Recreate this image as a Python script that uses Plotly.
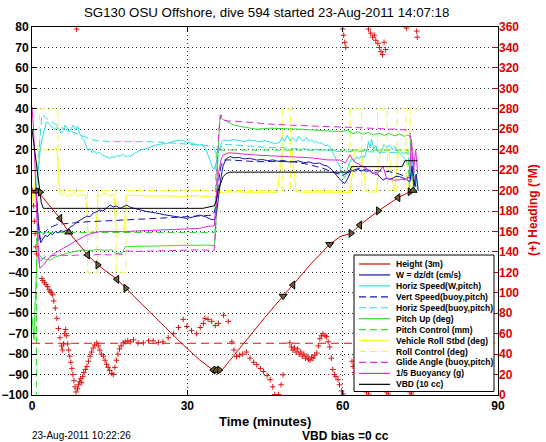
import plotly.graph_objects as go

# ---------------- data ----------------
height_t = [0, 1.2, 5.4, 7.1, 10.75, 12.7, 16.4, 18.1, 22, 25, 29, 32.4, 34.2, 35.0, 36.7, 39, 42, 45, 48.5, 50.4, 54, 57.5, 59.5, 61.6, 63.3, 66.9, 70.7, 73.0, 74.0]
height_v = [0, -0.6, -13.6, -20.4, -31.5, -36.4, -43.4, -47.8, -57.5, -65, -75, -82.9, -86.5, -87.8, -87.8, -80.5, -71.5, -62, -51.6, -46.2, -35.5, -26.3, -22.5, -20.9, -16.9, -9.9, -3.5, -0.6, 0]

hm_t = [0.9, 1.6, 5.4, 7.1, 10.75, 12.7, 16.4, 18.1, 35.0, 35.6, 36.2, 48.5, 50.4, 57.5, 61.6, 63.3, 66.9, 70.7, 73.0, 73.6]
hm_v = [-0.3, -0.8, -13.6, -20.4, -31.5, -36.4, -43.4, -47.8, -87.8, -88.0, -87.8, -51.6, -46.2, -26.3, -20.9, -16.9, -9.9, -3.5, -0.6, 0.0]
hm_sym = ["triangle-up", "triangle-right", "triangle-left", "triangle-up", "triangle-left", "triangle-right",
          "triangle-left", "triangle-right", "triangle-left", "triangle-up", "triangle-right", "triangle-down",
          "triangle-left", "triangle-down", "triangle-right", "triangle-left", "triangle-right", "triangle-left",
          "triangle-right", "triangle-up"]

w_t = [0.8, 1.1, 1.4, 1.7, 2.0, 2.5, 3.0, 3.5, 4.0, 4.5, 5.0, 5.5, 6.0, 6.7, 7.3, 8.0, 8.6, 9.3, 10.0, 10.6, 11.2, 11.8, 12.4, 13.1, 13.7, 14.4, 15.1, 15.7, 16.3, 17.0, 17.6, 18.3, 19, 20, 21, 22, 22.8, 24, 25.5, 27, 28.5, 29.9, 31, 32.4, 33.5, 34.5, 35.2, 35.6, 36.0, 36.4, 36.9, 37.5, 38.2, 39, 40, 41, 42, 43.4, 44.5, 45.5, 46.5, 47.5, 48.5, 49.5, 50.4, 51.5, 52.5, 53.5, 54.5, 55.5, 56.2, 57, 57.8, 58.4, 58.8, 59.3, 59.8, 60.4, 60.9, 61.3, 61.7, 62.3, 62.9, 63.5, 64, 64.6, 65.2, 65.9, 66.5, 67.2, 67.8, 68.4, 69.0, 69.7, 70.3, 71, 71.7, 72.3, 73, 73.4, 73.8, 74.2, 74.6]
w_v = [0, -12, -22, -25.5, -24, -22, -22.5, -21, -21.5, -20, -20.8, -19.5, -20, -19.5, -18, -17, -15.5, -14.4, -13.5, -12.5, -12.8, -11, -10.5, -9.5, -10, -8.5, -7.1, -8, -7.5, -8.7, -8, -7.1, -8.2, -9, -9.5, -10.2, -10.4, -11, -11.8, -12.4, -13, -13.6, -13, -12, -12.8, -14, -14.4, -12, -4, 5, 12, 15.5, 16.6, 16, 16.2, 15.5, 15.8, 14.9, 15.2, 14.6, 15, 14.3, 14.8, 14, 14.1, 14.5, 13.6, 14, 13.2, 13.5, 12.5, 12, 10.5, 8.5, 7.6, 6, 4.5, 3.5, 5.5, 8, 10, 9.2, 10.5, 9.5, 10, 9.3, 9.8, 8.4, 8.8, 6.5, 5.1, 6, 5.5, 6, 7, 6.8, 6.2, 5.5, 4.3, 12, 2, 8, 0]

hsw_t = [0.8, 1.2, 1.6, 2.0, 2.4, 2.8, 3.2, 3.6, 4.0, 4.4, 4.8, 5.2, 5.6, 6.0, 6.4, 6.8, 7.2, 7.6, 8.0, 8.4, 8.8, 9.2, 9.6, 10.0, 10.4, 10.8, 11.2, 11.6, 12.0, 12.5, 13.0, 13.5, 14.0, 14.5, 15.0, 15.5, 16.0, 16.5, 17.0, 17.5, 18.0, 18.5, 19.0, 20, 21, 22, 23, 24, 25, 26, 27, 28, 29, 30, 31, 32, 33, 33.6, 34.2, 34.8, 35.2, 35.6, 36.0, 36.3, 36.6, 37.0, 38, 39, 40, 41, 42, 43, 44, 45, 46, 47, 47.8, 48.3, 48.8, 49.3, 49.8, 50.4, 51, 51.5, 52, 52.5, 53, 53.5, 54, 54.5, 55, 55.5, 56, 56.5, 57, 57.5, 58, 58.5, 59, 59.5, 60, 60.4, 60.8, 61.2, 61.7, 62.2, 62.7, 63.2, 63.7, 64.2, 64.7, 65.0, 65.3, 65.6, 66.0, 66.4, 66.8, 67.2, 67.6, 68.0, 68.5, 69.1, 69.6, 70.1, 70.6, 71.0, 71.5, 72.0, 72.5, 73.0, 73.3, 73.6, 73.9, 74.2, 74.5]
hsw_v = [0, 12, 20, 26, 30, 33.5, 33, 32, 31, 29.5, 31, 30, 28, 29.5, 32, 30, 28.5, 30.5, 32, 29.5, 31.5, 28, 26, 25, 22, 19.5, 20.5, 18.5, 19.5, 18, 18.8, 17.5, 17, 16.2, 15.8, 16.5, 16.2, 17.2, 16.8, 18, 16.5, 17, 16.8, 18.5, 19.8, 20.5, 21.5, 22.3, 22.8, 23, 23.8, 24.5, 24.7, 23.5, 23.1, 22.3, 22.5, 20, 16, 11.5, 10.5, 14, 19, 21.5, 23.5, 24.7, 24.2, 25, 24.5, 24, 24.8, 24.3, 23.8, 24.5, 23.5, 23, 23.5, 26, 24, 27, 24.5, 25.8, 24, 26.5, 25, 24.2, 26, 24, 25, 23.5, 24.2, 22.8, 23.5, 22, 22.3, 21.5, 19, 16.5, 13.5, 11.5, 8, 6, 9, 13, 15.5, 14.5, 16.5, 15.5, 17, 16.2, 20, 24, 21, 25, 20.5, 22, 19, 18.2, 20, 22.5, 21, 22.3, 20, 21.5, 18.5, 18.2, 17, 15.5, 13, 11.7, 5, 16, 2, 8, 0]

vsb_t = [0.8, 1.2, 1.6, 2.0, 3, 4, 5, 7, 9, 11, 13, 15, 18.3, 21, 24, 27, 30, 32.4, 34, 35, 35.5, 36, 36.5, 37, 38, 40, 43.4, 46, 48, 50.4, 53, 56.2, 58, 60.1, 61.5, 63.3, 65, 67, 69.1, 71, 73, 73.5, 74.2]
vsb_v = [0, -15, -24, -22, -19, -17.5, -16.5, -16, -15.5, -15.2, -15, -14.8, -14.4, -14, -13.6, -13.2, -12.8, -12.2, -12, -12, -8, 4, 12, 14.9, 15, 14.6, 14.1, 14.2, 14, 14.1, 13, 10.9, 9, 7.6, 9.5, 10.9, 10, 9.5, 9.2, 8, 6, 10, 1]

hsb_t = [0.8, 1.2, 1.6, 1.9, 2.5, 3.5, 4.5, 5.4, 6.5, 7.5, 8.5, 9.3, 10.5, 11.8, 13, 15, 18.3, 20, 22.8, 25, 28.6, 30.5, 32.4, 34, 35, 35.6, 36.2, 36.9, 38, 40, 43.4, 46, 48, 50, 52, 54, 56, 58, 59.5, 61, 63, 65, 67, 69, 71, 72.5, 73.3, 74]
hsb_v = [0, 15, 30, 37, 36, 34, 32.5, 31, 30, 29, 28, 27.2, 26, 24.7, 24.3, 24, 23.9, 24, 23.9, 23.6, 23, 22.8, 22.3, 22, 21.5, 18, 20, 22.5, 22.5, 22, 21.5, 21, 21, 20.5, 20.5, 20, 20, 19.5, 19, 19, 19.3, 19, 18.8, 18.5, 18.5, 18.3, 10, 3]

pitch_t = [0, 0.2, 0.4, 0.6, 0.8, 1.0, 1.3, 1.8, 2.5, 3.5, 4.5, 5.5, 6.7, 8, 9.9, 11, 12.5, 14, 15.4, 16.0, 16.5, 17.5, 18.0, 20, 23, 26, 29, 32.4, 34, 35.2, 35.5, 35.8, 36.1, 36.3, 36.7, 37.6, 39, 41, 43.4, 46, 49.8, 52, 55, 57, 59.5, 61, 62, 63, 64, 65, 66, 67, 68, 69, 70, 71, 72, 72.5, 73, 73.4, 73.8, 74.2]
pitch_v = [-62, -70, -73, -55, -40, -32, -31, -33, -33.5, -34, -32.5, -31.5, -30.7, -30, -29, -29.5, -28.8, -29.2, -29, -30.5, -30.7, -30.5, -27.5, -27.3, -27, -27, -26.8, -26.6, -26.7, -27, -20, 10, 30, 37, 35, 33.7, 32, 31, 30, 30.5, 30.4, 30, 29.5, 29.2, 28.8, 29.5, 27.8, 28.8, 27.5, 28.5, 27.2, 28.2, 27, 28, 26.8, 27.6, 26.5, 27.2, 26.5, 10, 0, 5]

pctl_t = [0, 0.85, 0.9, 35.3, 35.6, 72.6, 72.9]
pctl_v = [-105, -105, -20.5, -20.5, 19.8, 19.8, 0]

roll_t = [0, 0.3, 0.6, 0.9, 1.2, 1.5, 2, 3, 4, 4.8, 5.1, 5.4, 5.8, 6.3, 6.8, 7.3, 7.8, 8.3, 8.8, 9.3, 9.8, 10.3, 10.6, 10.8, 11.2, 12.3, 12.6, 12.8, 13.3, 14, 15, 15.8, 16.0, 16.2, 17.8, 18.0, 18.2, 19, 21, 23, 25, 27, 29, 31, 33, 34.5, 35.3, 36, 37, 40, 43, 46, 47.4, 47.8, 48.3, 50.2, 50.6, 51, 53, 55, 57, 59, 61.5, 61.9, 62.3, 63.6, 64, 64.5, 66.5, 66.9, 67.3, 68.9, 69.3, 70, 70.4, 70.8, 72.8, 73.2, 73.6, 74]
roll_v = [0, -8, 5, 15, 20, 20, 20.5, 19.5, 20, 20.5, 10, -1.5, -2.5, -1, -3, -1.5, -2.2, -1, -2.8, -1.7, -2.5, -2, -10, -20, -20.5, -20, -10, -2.5, -2, -1.2, -2.5, -2, -10, -20, -20, -10, -2.5, -2.2, -2.5, -2.8, -2.6, -2.8, -3, -2.5, -2.8, -3, -2, -1, -0.8, -0.6, -1.2, -0.8, -1, 10, 20, 20, 10, -0.5, -1, -0.6, -1.2, -0.8, -1, 10, 20, 20, 10, -0.6, -0.8, 10, 20, 20, 10, -0.8, 10, 20, 20, 10, 2, 0]

rctl_t = [0, 1.4, 1.45, 5.0, 5.05, 10.7, 10.75, 12.6, 12.65, 16.2, 16.25, 18.1, 18.15, 48.3, 48.35, 49.9, 49.95, 61.4, 61.45, 63.6, 63.65, 66.7, 66.75, 68.6, 68.65, 70.5, 70.55, 72.2, 72.25, 73.0, 73.05, 74.3]
rctl_v = [0, 0, 40, 40, 0, 0, -40, -40, 0, 0, -40, -40, 0, 0, 40, 40, 0, 0, 40, 40, 0, 0, 40, 40, 0, 0, 40, 40, 0, 0, 40, 40]

glide_t = [0.8, 1.1, 1.4, 1.8, 2.5, 3.5, 5, 7, 9, 11, 13, 15, 16.4, 17.5, 18.2, 20, 24, 28, 32.4, 34.5, 35.2, 35.5, 35.8, 36.1, 36.5, 37, 38, 40, 43, 46, 50, 54, 58, 61, 64, 67, 70, 72.5, 73, 73.5, 74]
glide_v = [0, -20, -36, -34, -32.5, -32, -31.5, -31.8, -31.5, -31.8, -31.2, -31.5, -31, -31.2, -29.5, -29.8, -29.5, -29.3, -29, -29.2, -29.2, -15, 15, 30, 37, 34.5, 34, 33.8, 33, 32.5, 32, 31.5, 31.2, 31, 30.5, 30.3, 30, 29.6, 28, 15, 5]

buoy_t = [0, 0.3, 0.6, 0.9, 1.2, 1.5, 2, 2.8, 3.5, 4.5, 5.5, 6.7, 8, 9.9, 11.5, 13.1, 15, 18, 20, 23, 26, 29, 32.4, 34, 35.2, 35.6, 36, 36.5, 36.9, 38, 40, 43, 46, 50, 54, 57, 59.5, 60.5, 61.4, 62.3, 63.3, 64.5, 65.5, 66.5, 67.8, 68.5, 70, 71.5, 72.3, 72.9, 73.3, 73.7, 74.1, 74.5]
buoy_v = [41, 30, 10, -15, -30, -38, -37, -34.5, -32.4, -30.5, -29, -27.5, -25.5, -22.6, -21, -20.1, -20, -20.1, -19.8, -19.5, -19.2, -18.8, -18.5, -17.5, -17.3, -5, 8, 15, 17.4, 18.5, 18, 17.4, 17, 16.6, 16, 15, 14.9, 13.5, 17.4, 14, 12.5, 11, 9, 7.6, 11.7, 6, 5, 5.5, 5.2, 7, 25, 10, 20, 8]

vbd_t = [0, 0.5, 1.0, 1.4, 1.8, 2.2, 33.0, 35.2, 35.6, 36.0, 36.5, 36.9, 37.5, 38.2, 61.3, 61.7, 71.5, 72.0, 74.5]
vbd_v = [30, 20, 10, 2, -6, -8.7, -8.7, -7.5, -5, 0.3, 4, 6.8, 8.3, 9.0, 9.0, 11.7, 11.7, 14.6, 14.6]

hd_t = [0.15, 0.3, 0.45, 0.6, 0.75, 0.9, 1.9, 2.1, 2.4, 2.7, 3.0, 3.3, 3.5, 3.8, 4.0, 4.2, 4.5, 4.8, 5.1, 5.4, 5.7, 5.9, 6.1, 6.3, 6.5, 6.7, 6.9, 7.1, 7.3, 7.5, 7.7, 7.9, 8.1, 8.3, 8.5, 8.6, 8.8, 9.0, 9.2, 9.4, 9.6, 9.8, 10.0, 10.3, 10.6, 10.9, 11.2, 11.5, 11.8, 12.1, 12.5, 12.8, 13.1, 13.4, 13.8, 14.1, 14.4, 14.7, 15.0, 15.4, 15.7, 16.0, 16.3, 16.6, 16.9, 17.2, 17.6, 18.0, 18.5, 19.0, 19.6, 20.5, 21.5, 22.5, 23.4, 24.4, 25.3, 26.3, 27.3, 28.3, 29.2, 29.9, 30.8, 31.8, 32.5, 33.1, 33.4, 34.0, 34.7, 35.4, 36.0, 37.0, 37.9, 38.6, 39.0, 39.5, 40.1, 40.7, 41.4, 42.1, 42.8, 43.4, 44.1, 44.7, 45.4, 46.0, 46.5, 46.9, 47.6, 48.1, 48.5, 49.8, 50.1, 50.4, 50.7, 51.0, 51.3, 51.6, 51.9, 52.2, 52.5, 52.8, 53.1, 53.4, 53.7, 54.0, 54.3, 54.6, 55.0, 55.3, 55.6, 55.9, 56.2, 56.6, 56.9, 57.2, 57.5, 57.8, 58.1, 58.4, 58.7, 59.1, 59.4, 59.8, 60.1, 60.0, 60.2, 60.4, 60.6, 61.8, 62.0, 62.3, 62.7, 64.6, 65.0, 65.0, 65.4, 65.8, 66.1, 66.4, 66.8, 67.1, 67.4, 67.7, 68.0, 68.3, 68.5, 68.8, 72.3, 73.0, 73.3, 73.7, 74.3, 74.4]
hd_h = [200, 185, 170, 158, 145, 138, 114, 112, 110, 108, 106, 103, 101, 100, 98, 92, 85, 75, 65, 56, 48, 44, 50, 60, 64, 58, 50, 44, 38, 32, 26, 20, 14, 8, 3, 358, 6, 10, 13, 16, 12, 18, 22, 25, 28, 33, 38, 42, 46, 49, 51, 48, 44, 40, 38, 34, 30, 27, 24, 21, 20, 27, 34, 40, 45, 48, 51, 52, 53, 52, 54, 51, 51, 53, 53, 51.5, 52, 56, 60, 66, 74, 67, 63, 60, 66, 70, 75, 74, 72, 68, 70, 78, 72, 52, 44, 37.6, 39, 40, 42, 36, 32, 29.6, 26, 23, 19, 15, 8, 0.5, 0.5, 10, 19.7, 51, 47, 44, 46, 42, 45, 40, 42, 38, 40, 36, 38, 35, 34, 37, 36, 39, 41, 48, 55, 58, 60, 58, 57, 52, 47, 36, 25, 20, 18, 15, 10, 4, 1, 358, 352, 345, 340, 33, 28, 22, 17, 3, 1, 358, 354, 350, 352, 347, 344, 340, 336, 333, 345, 338, 3, 1, 359, 3, 1, 5, 356, 350]

target_t = [0, 90]
target_h = [50.6, 50.6]

legend_labels = ["Height (3m)", "W = dz/dt (cm/s)", "Horiz Speed(W,pitch)", "Vert Speed(buoy,pitch)",
                 "Horiz Speed(buoy,pitch)", "Pitch Up (deg)", "Pitch Control (mm)", "Vehicle Roll Stbd (deg)",
                 "Roll Control (deg)", "Glide Angle (buoy,pitch)", "1/5 Buoyancy (g)", "VBD (10 cc)"]

# ---------------- styles ----------------
RED = "rgb(205,0,0)"
HRED = "rgb(225,20,20)"
BLUE = "rgb(20,20,170)"
CYAN = "rgb(40,225,225)"
GREEN = "rgb(50,220,50)"
YELLOW = "rgb(250,250,40)"
MAG = "rgb(225,40,225)"
BLACK = "black"
DASH = "7px,4px"
FONT = "Liberation Sans, Arial, Helvetica, sans-serif"

styles = [(RED, "solid"), (BLUE, "solid"), (CYAN, "solid"), (BLUE, DASH), (CYAN, DASH),
          (GREEN, "solid"), (GREEN, DASH), (YELLOW, "solid"), (YELLOW, DASH), (MAG, DASH),
          (MAG, "solid"), (BLACK, "solid")]

series = [(height_t, height_v), (w_t, w_v), (hsw_t, hsw_v), (vsb_t, vsb_v), (hsb_t, hsb_v),
          (pitch_t, pitch_v), (pctl_t, pctl_v), (roll_t, roll_v), (rctl_t, rctl_v),
          (glide_t, glide_v), (buoy_t, buoy_v), (vbd_t, vbd_v)]

fig = go.Figure()

# heading markers and target heading on the right axis
fig.add_trace(go.Scatter(x=hd_t, y=hd_h, yaxis="y2", mode="markers",
                         marker=dict(symbol="cross-thin", size=4, line=dict(width=1, color=HRED)),
                         showlegend=False))
fig.add_trace(go.Scatter(x=target_t, y=target_h, yaxis="y2", mode="lines",
                         line=dict(color=HRED, width=1, dash="8px,5px"), showlegend=False))

draw_order = [8, 7, 6, 5, 4, 2, 3, 1, 9, 10, 11, 0]
for i in draw_order:
    t, v = series[i]
    col, dash = styles[i]
    fig.add_trace(go.Scatter(x=t, y=v, mode="lines", name=legend_labels[i],
                             line=dict(color=col, width=1, dash=dash), showlegend=False))

fig.add_trace(go.Scatter(x=hm_t, y=hm_v, mode="markers",
                         marker=dict(symbol=hm_sym, size=7, color="rgb(110,95,55)",
                                     line=dict(width=1, color="black")),
                         showlegend=False))

# ---------------- layout ----------------
W, H = 546, 442
L, R, T, B = 32, 48, 27, 47
pw, ph = W - L - R, H - T - B


def px(x):  # picture x pixel -> paper coordinate
    return (x - L) / pw


def py(y):  # picture y pixel -> paper coordinate
    return (H - B - y) / ph


tickfont = dict(family=FONT, size=12, color="black", weight="bold")
fig.update_layout(
    width=W, height=H, autosize=False,
    margin=dict(l=L, r=R, t=T, b=B, pad=0, autoexpand=False),
    paper_bgcolor="white", plot_bgcolor="white",
    showlegend=False,
    xaxis=dict(range=[0, 90], tickvals=[0, 30, 60, 90], ticks="inside", ticklen=5, tickcolor="black",
               showline=True, linecolor="black", linewidth=1, mirror="ticks", automargin=False,
               showgrid=True, gridcolor="rgb(60,60,60)", griddash="1px,3px", gridwidth=1,
               zeroline=False, tickfont=tickfont),
    yaxis=dict(range=[-100, 80], dtick=10, ticks="inside", ticklen=5, tickcolor="black",
               showline=True, linecolor="black", linewidth=1, mirror="ticks", automargin=False,
               showgrid=True, gridcolor="rgb(60,60,60)", griddash="1px,3px", gridwidth=1,
               zeroline=False, tickfont=tickfont),
    yaxis2=dict(range=[0, 360], dtick=20, overlaying="y", side="right", ticks="inside", ticklen=5,
                tickcolor="rgb(205,0,0)", showgrid=False, zeroline=False, showline=False, automargin=False,
                tickfont=dict(family=FONT, size=12, color="rgb(220,0,0)", weight="bold")),
)

ann = []
ann.append(dict(text="SG130 OSU Offshore, dive 594 started 23-Aug-2011 14:07:18", x=px(266), y=py(12),
                xref="paper", yref="paper", showarrow=False, xanchor="center", yanchor="middle",
                font=dict(family=FONT, size=13.3, color="black")))
ann.append(dict(text="Time (minutes)", x=px(265), y=py(421), xref="paper", yref="paper", showarrow=False,
                xanchor="center", yanchor="middle",
                font=dict(family=FONT, size=13, color="black", weight="bold")))
ann.append(dict(text="(+) Heading (°M)", x=px(533), y=py(210), xref="paper", yref="paper",
                showarrow=False, textangle=-90, xanchor="center", yanchor="middle",
                font=dict(family=FONT, size=12, color="rgb(220,0,0)", weight="bold")))
ann.append(dict(text="23-Aug-2011 10:22:26", x=px(30), y=py(436), xref="paper", yref="paper",
                showarrow=False, xanchor="left", yanchor="middle",
                font=dict(family=FONT, size=10, color="black")))
ann.append(dict(text="VBD bias =0 cc", x=px(300), y=py(436), xref="paper", yref="paper",
                showarrow=False, xanchor="left", yanchor="middle",
                font=dict(family=FONT, size=12, color="black", weight="bold")))

shapes = []
shapes.append(dict(type="rect", xref="paper", yref="paper", x0=px(354), x1=px(494), y0=py(391.5), y1=py(255),
                   fillcolor="white", line=dict(color="black", width=1), layer="above"))
for k, lab in enumerate(legend_labels):
    yy = 264 + k * 10.94
    col, dash = styles[k]
    shapes.append(dict(type="line", xref="paper", yref="paper", x0=px(359), x1=px(390), y0=py(yy), y1=py(yy),
                       line=dict(color=col, width=1.2, dash=dash), layer="above"))
    ann.append(dict(text=lab, x=px(394), y=py(yy), xref="paper", yref="paper", showarrow=False,
                    xanchor="left", yanchor="middle",
                    font=dict(family=FONT, size=8.5, color="black", weight="bold")))

fig.update_layout(annotations=ann, shapes=shapes)
fig.write_html("out.html", config={"displayModeBar": False},
               post_script="document.body.style.margin='0px';document.body.style.overflow='hidden';")
